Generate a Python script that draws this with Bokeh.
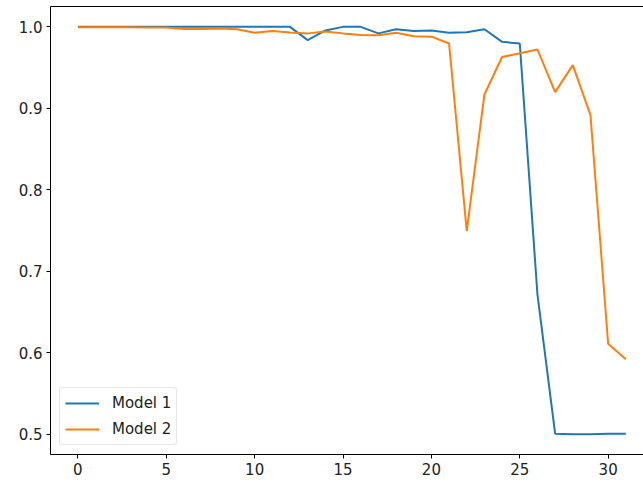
from bokeh.plotting import figure
from bokeh.models import FixedTicker, LinearAxis, Legend, LegendItem, PrintfTickFormatter
from bokeh.embed import file_html
from bokeh.resources import INLINE

epochs = list(range(32))
model1 = [1.0, 1.0, 1.0, 1.0, 1.0, 1.0, 1.0, 1.0, 1.0, 1.0, 1.0, 1.0, 1.0,
          0.9837, 0.9956, 1.0, 1.0, 0.992, 0.997, 0.995, 0.9956, 0.9927,
          0.9935, 0.997, 0.9816, 0.9796, 0.6716, 0.5006, 0.4998, 0.4998,
          0.5005, 0.5004]
model2 = [0.9995, 0.9995, 0.9995, 0.9995, 0.9993, 0.9992, 0.9975, 0.9975,
          0.998, 0.997, 0.9927, 0.995, 0.993, 0.992, 0.9943, 0.992, 0.990,
          0.9898, 0.9927, 0.9886, 0.988, 0.9796, 0.7493, 0.917, 0.963,
          0.9675, 0.9723, 0.9199, 0.953, 0.8917, 0.611, 0.592]
x_ticks = [0, 5, 10, 15, 20, 25, 30]
y_ticks = [0.5, 0.6, 0.7, 0.8, 0.9, 1.0]

FONT = "DejaVu Sans"
FSIZE = "15px"

p = figure(frame_width=593, frame_height=448, x_range=(-1.55, 32.0),
           y_range=(0.475, 1.025), output_backend="svg", toolbar_location=None,
           min_border_left=50, min_border_right=0, min_border_top=6,
           min_border_bottom=31)
p.grid.visible = False
p.outline_line_color = None
p.background_fill_color = "white"
p.border_fill_color = "white"

r1 = p.line(epochs, model1, line_color="#1f77b4", line_width=2)
r2 = p.line(epochs, model2, line_color="#ff7f0e", line_width=2)

for ax in (p.xaxis[0], p.yaxis[0]):
    ax.axis_line_color = "black"
    ax.axis_line_width = 1
    ax.major_tick_line_color = "black"
    ax.major_tick_out = 4
    ax.major_tick_in = 0
    ax.minor_tick_line_color = None
    ax.major_label_text_font = FONT
    ax.major_label_text_font_size = FSIZE
    ax.major_label_text_color = "#222222"
    ax.major_label_standoff = 4

p.xaxis[0].ticker = FixedTicker(ticks=x_ticks)
p.yaxis[0].ticker = FixedTicker(ticks=y_ticks)
p.yaxis[0].formatter = PrintfTickFormatter(format="%.1f")

top = LinearAxis(ticker=FixedTicker(ticks=[]), axis_line_color="black",
                 axis_line_width=1, major_tick_out=0, major_tick_in=0,
                 minor_tick_out=0, minor_tick_in=0,
                 major_label_text_font_size="0px", major_label_standoff=0)
p.add_layout(top, "above")

legend = Legend(items=[LegendItem(label="Model 1", renderers=[r1]),
                       LegendItem(label="Model 2", renderers=[r2])],
                location="bottom_left", margin=9, padding=5, spacing=6,
                glyph_width=34, glyph_height=20, label_standoff=13,
                label_text_font=FONT, label_text_font_size=FSIZE,
                label_text_color="#222222", border_line_color="#d0d0d0",
                border_radius=3, background_fill_alpha=0.85)
p.add_layout(legend, "center")

open("out.html", "w").write(file_html(p, INLINE))
